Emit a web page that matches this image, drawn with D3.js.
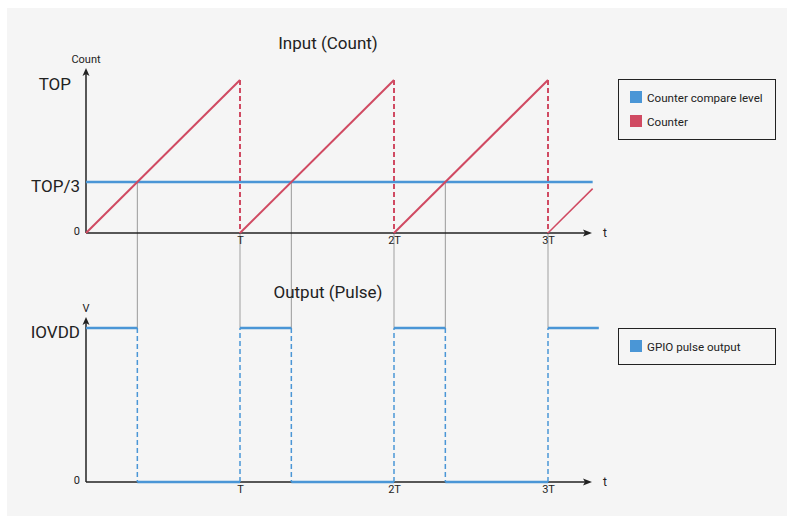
<!DOCTYPE html>
<html>
<head>
<meta charset="utf-8">
<script src="https://d3js.org/d3.v7.min.js"></script>
<style>
body { margin: 0; background: #fff; }
text { font-family: Roboto, "Noto Sans", sans-serif; fill: #222; }
</style>
</head>
<body>
<script>
// time in periods, values normalised to TOP / IOVDD
var periodTicks = [1, 2, 3];
var periodLabels = ["T", "2T", "3T"];
var compareLevel = 1 / 3;
var counterT = [0, 1, 1, 2, 2, 3, 3, 3.29];
var counterV = [0, 1, 0, 1, 0, 1, 0, 0.29];
var pulseT = [0, 1 / 3, 1, 4 / 3, 2, 7 / 3, 3, 3.33];
var pulseV = [1, 0, 1, 0, 1, 0, 1, 1];
var countLabels = ["0", "TOP/3", "TOP"];
var countTicks = [0, 1 / 3, 1];
var voltLabels = ["0", "IOVDD"];
var voltTicks = [0, 1];

var blue = "#4a96d6", red = "#d04a62";

var svg = d3.select("body").append("svg")
  .attr("width", 787).attr("height", 516);

svg.append("rect").attr("x", 7).attr("y", 8).attr("width", 780).attr("height", 508)
  .attr("fill", "#f5f5f5");

var x = d3.scaleLinear().domain([0, 3]).range([86, 548]);
var yTop = d3.scaleLinear().domain([0, 1]).range([233, 80]);
var yBot = d3.scaleLinear().domain([0, 1]).range([482, 328]);

// gray guide lines linking crossings to pulse edges
for (var i = 0; i < 3; i++) {
  var tc = i + compareLevel;
  svg.append("line")
    .attr("x1", x(tc)).attr("x2", x(tc))
    .attr("y1", yTop(compareLevel)).attr("y2", yBot(1))
    .attr("stroke", "#999").attr("stroke-width", 1);
  svg.append("line")
    .attr("x1", x(periodTicks[i])).attr("x2", x(periodTicks[i]))
    .attr("y1", yTop(0)).attr("y2", yBot(1))
    .attr("stroke", "#bbb").attr("stroke-width", 1.5);
}

function drawAxes(y, yTicks, yLabels, tipY, yName, nameY) {
  var xa = svg.append("g").attr("transform", "translate(0," + y(0) + ")")
    .call(d3.axisBottom(x).tickValues(periodTicks).tickSize(0).tickPadding(3)
      .tickFormat(function(d, i) { return periodLabels[i]; }));
  xa.select(".domain").remove();
  xa.selectAll("text").style("font-size", "11px").attr("fill", "#333");

  var ya = svg.append("g").attr("transform", "translate(" + x(0) + ",0)")
    .call(d3.axisLeft(y).tickValues(yTicks).tickSize(0).tickPadding(6)
      .tickFormat(function(d, i) { return yLabels[i]; }));
  ya.select(".domain").remove();
  ya.selectAll("text")
    .style("font-size", function(d) { return d === 0 ? "11px" : "17px"; })
    .attr("dy", function(d) { return d === 0 ? "0.1em" : "0.55em"; })
    .attr("x", function(d) { return yLabels === countLabels && d === 1 ? -15 : -6; })
    .attr("fill", "#222");

  // axis lines with arrows
  svg.append("line").attr("x1", x(0)).attr("x2", 586)
    .attr("y1", y(0)).attr("y2", y(0)).attr("stroke", "#222").attr("stroke-width", 1.5);
  svg.append("path").attr("d", "M592," + y(0) + "L583," + (y(0) - 3.5) + "L585," + y(0) + "L583," + (y(0) + 3.5) + "Z")
    .attr("fill", "#222");
  svg.append("text").attr("x", 603).attr("y", y(0) + 4).style("font-size", "12px").text("t");

  svg.append("line").attr("x1", x(0)).attr("x2", x(0))
    .attr("y1", y(0)).attr("y2", tipY + 5).attr("stroke", "#222").attr("stroke-width", 1.5);
  svg.append("path").attr("d", "M" + x(0) + "," + tipY + "L" + (x(0) - 3.5) + "," + (tipY + 8) + "L" + x(0) + "," + (tipY + 6) + "L" + (x(0) + 3.5) + "," + (tipY + 8) + "Z")
    .attr("fill", "#222");
  svg.append("text").attr("x", x(0)).attr("y", nameY).attr("text-anchor", "middle")
    .style("font-size", "11px").text(yName);
}

drawAxes(yTop, countTicks, countLabels, 68, "Count", 63);
drawAxes(yBot, voltTicks, voltLabels, 317, "V", 312);

// compare level
svg.append("line").attr("x1", x(0)).attr("x2", x(3.29))
  .attr("y1", yTop(compareLevel)).attr("y2", yTop(compareLevel))
  .attr("stroke", blue).attr("stroke-width", 2.5);

// counter: ramps solid, resets dashed
for (var i = 0; i < counterT.length - 1; i++) {
  var reset = counterT[i] === counterT[i + 1];
  svg.append("line")
    .attr("x1", x(counterT[i])).attr("y1", yTop(counterV[i]))
    .attr("x2", x(counterT[i + 1])).attr("y2", yTop(counterV[i + 1]))
    .attr("stroke", red)
    .attr("stroke-width", i === counterT.length - 2 ? 1.5 : 2)
    .attr("stroke-dasharray", reset ? "5,3" : null);
}

// pulse: levels solid, edges dashed
for (var i = 0; i < pulseT.length - 1; i++) {
  var tA = pulseT[i], tB = pulseT[i + 1];
  svg.append("line")
    .attr("x1", x(tA)).attr("x2", x(tB))
    .attr("y1", yBot(pulseV[i])).attr("y2", yBot(pulseV[i]))
    .attr("stroke", blue).attr("stroke-width", 2.5);
  if (pulseV[i + 1] !== pulseV[i]) {
    svg.append("line")
      .attr("x1", x(tB)).attr("x2", x(tB))
      .attr("y1", yBot(pulseV[i])).attr("y2", yBot(pulseV[i + 1]))
      .attr("stroke", blue).attr("stroke-width", 1.5)
      .attr("stroke-dasharray", "5,3");
  }
}

// titles
svg.append("text").attr("x", 328).attr("y", 49).attr("text-anchor", "middle")
  .style("font-size", "17px").text("Input (Count)");
svg.append("text").attr("x", 328).attr("y", 298).attr("text-anchor", "middle")
  .style("font-size", "17px").text("Output (Pulse)");

// legends
function legend(y0, h, items) {
  svg.append("rect").attr("x", 618.5).attr("y", y0 + 0.5).attr("width", 157).attr("height", h)
    .attr("fill", "none").attr("stroke", "#222").attr("stroke-width", 1);
  items.forEach(function(it, i) {
    var yy = y0 + 12 + i * 24;
    svg.append("rect").attr("x", 630).attr("y", yy).attr("width", 12).attr("height", 12)
      .attr("fill", it[1]);
    svg.append("text").attr("x", 647).attr("y", yy + 10.5).style("font-size", "11.6px")
      .attr("fill", "#222").text(it[0]);
  });
}
legend(79, 60, [["Counter compare level", blue], ["Counter", red]]);
legend(328, 36, [["GPIO pulse output", blue]]);
</script>
</body>
</html>
